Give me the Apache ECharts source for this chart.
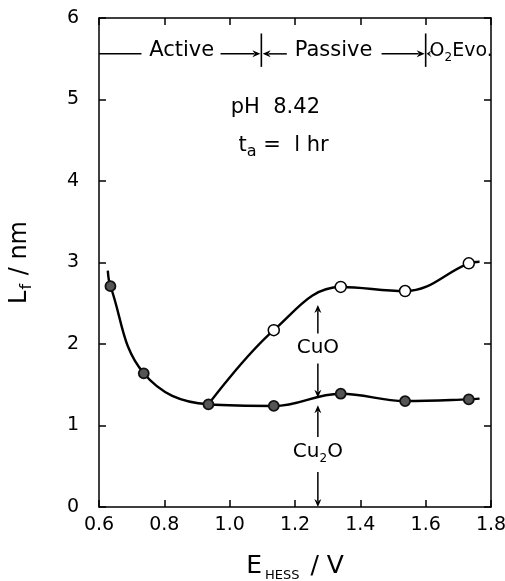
<!DOCTYPE html>
<html>
<head>
<meta charset="utf-8">
<script src="https://cdn.jsdelivr.net/npm/echarts@6/dist/echarts.min.js"></script>
<style>
  html, body { margin: 0; padding: 0; background: #fff; }
  #chart { width: 505px; height: 581px; }
</style>
</head>
<body>
<div id="chart"></div>
<script>
// Film thickness vs. potential (pH 8.42, 1 hr anodization)
const potential = [0.635, 0.737, 0.935, 1.135, 1.34, 1.537, 1.732];
const cu2oThickness = [2.71, 1.64, 1.26, 1.24, 1.39, 1.30, 1.32];
const totalPotential = [0.935, 1.135, 1.34, 1.537, 1.732];
const totalThickness = [1.26, 2.17, 2.70, 2.65, 2.99];
// curve ends drawn beyond the first/last measured points
const cu2oCurveStart = [0.627, 2.9];
const cu2oCurveEnd = [1.765, 1.33];
const totalCurveEnd = [1.765, 3.01];

const xTicks = [0.6, 0.8, 1.0, 1.2, 1.4, 1.6, 1.8];
const yTicks = [0, 1, 2, 3, 4, 5, 6];

// region boundaries along the top of the plot
const regionBounds = [1.097, 1.6];
const regionLevel = 5.56;

const FONT = 'DejaVu Sans';
const chart = echarts.init(document.getElementById('chart'), null, { renderer: 'canvas' });

const cu2oCurve = [cu2oCurveStart].concat(potential.map((x, i) => [x, cu2oThickness[i]]), [cu2oCurveEnd]);
const totalCurve = totalPotential.map((x, i) => [x, totalThickness[i]]).concat([totalCurveEnd]);

const tickCommon = { show: true, inside: true, length: 7, lineStyle: { color: '#000', width: 1.5 } };
const lineCommon = { show: true, onZero: false, lineStyle: { color: '#000', width: 1.5 } };

chart.setOption({
  animation: false,
  backgroundColor: '#fff',
  grid: { left: 99, right: 14, top: 18, bottom: 74, containLabel: false, outerBoundsMode: 'none' },
  xAxis: [{
    type: 'value', min: xTicks[0], max: xTicks[xTicks.length - 1], interval: 0.2,
    axisLine: lineCommon, axisTick: tickCommon, splitLine: { show: false },
    axisLabel: { color: '#000', fontFamily: FONT, fontSize: 19, margin: 9,
      formatter: v => v.toFixed(1) },
    name: 'E{sub|HESS} / V', nameLocation: 'middle', nameGap: 44,
    nameTextStyle: { color: '#000', fontFamily: FONT, fontSize: 25,
      rich: { sub: { fontFamily: FONT, fontSize: 13, padding: [18, 3, 0, 3], color: '#000' } } }
  }, {
    type: 'value', position: 'top', min: xTicks[0], max: xTicks[xTicks.length - 1], interval: 0.2,
    axisLine: lineCommon, axisTick: tickCommon, axisLabel: { show: false }, splitLine: { show: false }
  }],
  yAxis: [{
    type: 'value', min: yTicks[0], max: yTicks[yTicks.length - 1], interval: 1,
    axisLine: lineCommon, axisTick: tickCommon, splitLine: { show: false },
    axisLabel: { color: '#000', fontFamily: FONT, fontSize: 19, margin: 20 },
    name: 'L{sub|f} / nm', nameLocation: 'middle', nameGap: 64, nameRotate: 90,
    nameTextStyle: { color: '#000', fontFamily: FONT, fontSize: 24,
      rich: { sub: { fontFamily: FONT, fontSize: 16, padding: [14, 1, 0, 1], color: '#000' } } }
  }, {
    type: 'value', position: 'right', min: yTicks[0], max: yTicks[yTicks.length - 1], interval: 1,
    axisLine: lineCommon, axisTick: tickCommon, axisLabel: { show: false }, splitLine: { show: false }
  }],
  series: [
    { type: 'line', data: cu2oCurve, smooth: 0.4, symbol: 'none',
      lineStyle: { color: '#000', width: 2.4 }, z: 2 },
    { type: 'line', data: totalCurve, smooth: 0.4, symbol: 'none',
      lineStyle: { color: '#000', width: 2.4 }, z: 2 },
    { type: 'scatter', data: totalPotential.map((x, i) => [x, totalThickness[i]]).slice(1),
      symbol: 'circle', symbolSize: 11,
      itemStyle: { color: '#fff', borderColor: '#000', borderWidth: 1.5, opacity: 1 }, z: 4 },
    { type: 'scatter', data: potential.map((x, i) => [x, cu2oThickness[i]]),
      symbol: 'circle', symbolSize: 10,
      itemStyle: { color: '#555', borderColor: '#111', borderWidth: 1.8, opacity: 1 }, z: 5 }
  ]
});

// ---- annotations placed in data coordinates ----
const px = (x, y) => chart.convertToPixel({ xAxisIndex: 0, yAxisIndex: 0 }, [x, y]);

function arrow(p1, p2, head) {
  const dx = p2[0] - p1[0], dy = p2[1] - p1[1];
  const len = Math.hypot(dx, dy) || 1;
  const ux = dx / len, uy = dy / len;
  const h = head || 8, w = 3.5;
  const bx = p2[0] - ux * h, by = p2[1] - uy * h;
  return [
    { type: 'line', shape: { x1: p1[0], y1: p1[1], x2: bx + ux * 2, y2: by + uy * 2 },
      style: { stroke: '#000', lineWidth: 1.5 }, z: 10 },
    { type: 'polygon', shape: { points: [[p2[0], p2[1]], [bx - uy * w, by + ux * w], [bx + ux * 2.5, by + uy * 2.5], [bx + uy * w, by - ux * w]] },
      style: { fill: '#000' }, z: 10 }
  ];
}
function line(p1, p2, w) {
  return { type: 'line', shape: { x1: p1[0], y1: p1[1], x2: p2[0], y2: p2[1] },
    style: { stroke: '#000', lineWidth: w || 1.5 }, z: 10 };
}
function text(p, str, size, align, rich) {
  return { type: 'text', x: p[0], y: p[1], z: 10,
    style: { text: str, fill: '#000', font: size + 'px "' + FONT + '"', fontFamily: FONT, fontSize: size,
      align: align || 'center', verticalAlign: 'middle', rich: rich || {} } };
}

const subRich = { sub: { fontFamily: FONT, fontSize: 12, padding: [14, 0, 0, 0], fill: '#000' } };
const g = [];
const L = regionLevel;
// region bar: Active | Passive | O2 evolution
g.push(line(px(0.6, L), px(0.73, L)));
g.push(text(px(0.853, L + 0.04), 'Active', 21));
g.push(...arrow(px(0.972, L), px(regionBounds[0] - 0.003, L)));
g.push(line(px(regionBounds[0], 5.40), px(regionBounds[0], 5.81), 1.6));
g.push(...arrow(px(1.175, L), px(regionBounds[0] + 0.004, L)));
g.push(text(px(1.318, L + 0.04), 'Passive', 21));
g.push(...arrow(px(1.465, L), px(regionBounds[1] - 0.003, L)));
g.push(line(px(regionBounds[1], 5.40), px(regionBounds[1], 5.81), 1.6));
g.push(...arrow(px(1.614, L), px(regionBounds[1] + 0.003, L), 5));
g.push(text(px(1.612, L + 0.04), 'O{sub|2}Evo.', 19, 'left', subRich));

// conditions
g.push(text(px(1.14, 4.9), 'pH  8.42', 21));
g.push(text(px(1.165, 4.43), 't{sub|a} =  l hr', 21, 'center',
  { sub: { fontFamily: FONT, fontSize: 16, padding: [12, 0, 0, 0], fill: '#000' } }));

// layer markers
const xm = 1.27;
g.push(...arrow(px(xm, 2.13), px(xm, 2.48)));
g.push(text(px(xm, 1.95), 'CuO', 20));
g.push(...arrow(px(xm, 1.76), px(xm, 1.34)));
g.push(...arrow(px(xm, 0.86), px(xm, 1.25)));
g.push(text(px(xm, 0.68), 'Cu{sub|2}O', 20, 'center', subRich));
g.push(...arrow(px(xm, 0.43), px(xm, 0.0)));

chart.setOption({ graphic: { elements: g } });
</script>
</body>
</html>
